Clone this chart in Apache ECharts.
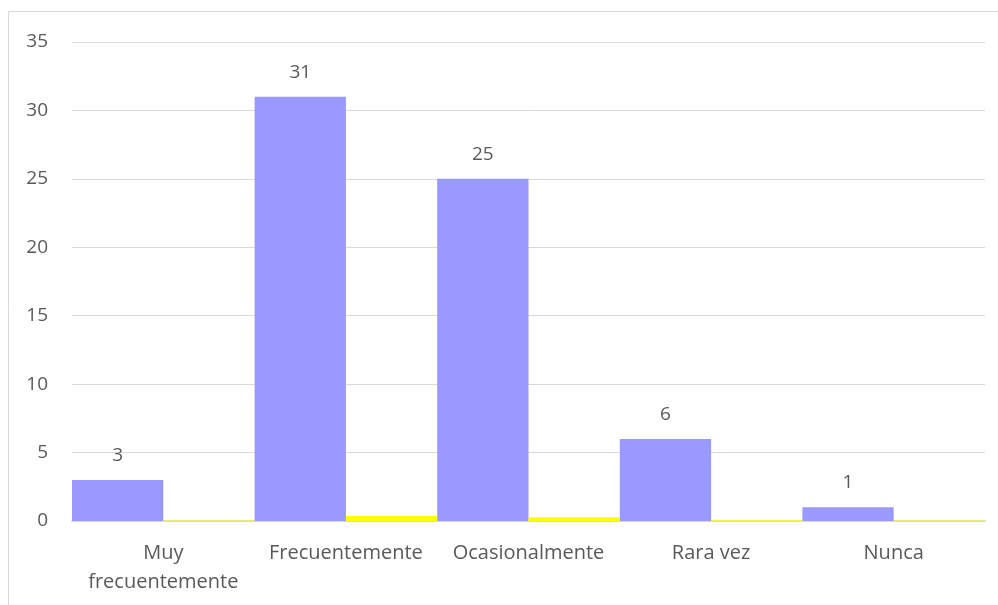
<!DOCTYPE html>
<html>
<head>
<meta charset="utf-8">
<script src="https://cdn.jsdelivr.net/npm/echarts@6/dist/echarts.min.js"></script>
<style>html,body{margin:0;padding:0;background:#fff}#c{width:998px;height:605px}</style>
</head>
<body>
<div id="c"></div>
<script>
const categories = ['Muy frecuentemente', 'Frecuentemente', 'Ocasionalmente', 'Rara vez', 'Nunca'];
const seriesMain = [3, 31, 25, 6, 1];
const seriesSecond = [0.04, 0.37, 0.27, 0.05, 0.04];
const yTicks = [0, 5, 10, 15, 20, 25, 30, 35];

const chart = echarts.init(document.getElementById('c'));
const txt = '#595959';
chart.setOption({
  animation: false,
  textStyle: { fontFamily: 'Open Sans' },
  graphic: [{
    type: 'rect', shape: { x: 8.5, y: 11.5, width: 1000, height: 700 },
    style: { fill: 'none', stroke: '#d9d9d9', lineWidth: 1 }, silent: true
  }],
  grid: { left: 72, right: 13, top: 42, bottom: 84 },
  xAxis: {
    type: 'category', data: categories,
    axisLine: { lineStyle: { color: '#d9d9d9', width: 2 } },
    axisTick: { show: false },
    axisLabel: {
      color: txt, fontSize: 20, margin: 18, lineHeight: 29, interval: 0,
      formatter: v => v === 'Muy frecuentemente' ? 'Muy\nfrecuentemente' : v
    }
  },
  yAxis: {
    type: 'value', min: yTicks[0], max: yTicks[yTicks.length - 1], interval: 5,
    axisLine: { show: false }, axisTick: { show: false },
    axisLabel: { color: txt, fontSize: 19, margin: 24 },
    splitLine: { lineStyle: { color: '#d9d9d9', width: 1 } }
  },
  series: [
    {
      type: 'bar', data: seriesMain, barGap: '0%', barCategoryGap: '0%',
      itemStyle: { color: '#9999FF' },
      label: { show: true, position: 'top', distance: 15, color: txt, fontSize: 19 }
    },
    {
      type: 'bar', data: seriesSecond, barGap: '0%', barCategoryGap: '0%',
      itemStyle: { color: '#FFFF00' }
    }
  ]
});
</script>
</body>
</html>
